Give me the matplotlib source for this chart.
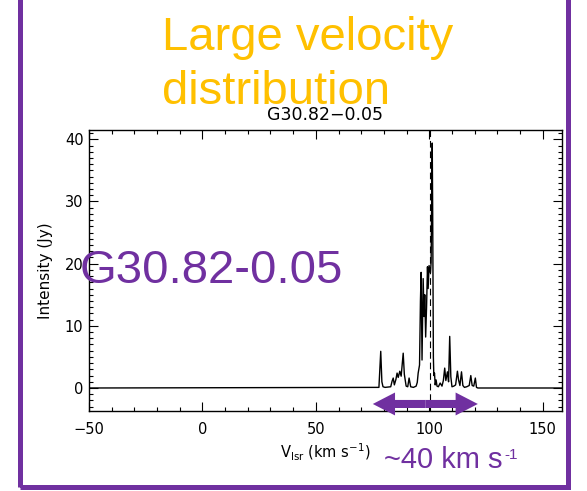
import matplotlib
matplotlib.use("Agg")
import matplotlib.pyplot as plt
from matplotlib.patches import FancyArrowPatch, Rectangle
from matplotlib.ticker import MultipleLocator

# ------------------------------------------------------------
# Spectrum of G30.82-0.05 (velocity in km/s, flux in Jy)
# ------------------------------------------------------------

velocity = [
    -50, 77.8, 78.6, 79.1, 79.6, 80.5, 83.0, 83.6, 84.1, 84.6,
    85.3, 85.8, 86.3, 87.0, 87.6, 88.5, 89.0, 89.8, 90.5, 91.1,
    91.8, 93.0, 94.2, 94.7, 95.1, 95.7, 96.1, 96.4, 96.8, 97.3,
    97.7, 98.0, 98.4, 98.8, 99.2, 99.5, 99.9, 100.5, 100.8, 101.3,
    101.5, 101.8, 102.0, 102.3, 102.6, 103.0, 103.4, 104.0, 104.8, 105.6,
    106.2, 106.8, 107.3, 108.0, 108.5, 109.0, 109.5, 110.0, 110.8, 111.6,
    112.4, 112.9, 113.5, 114.2, 114.8, 115.5, 116.5, 117.6, 118.3, 118.9,
    119.6, 120.3, 120.8, 121.4, 158.5,
]
intensity = [
    0.0, 0.1, 5.9, 1.0, 0.2, 0.1, 0.2, 1.1, 1.6, 0.5,
    1.4, 2.4, 1.7, 2.7, 1.9, 5.6, 2.2, 0.3, 0.2, 1.6,
    0.2, 0.1, 0.3, 0.9, 2.4, 3.7, 14.0, 18.6, 4.5, 17.6,
    11.5, 15.0, 8.2, 13.0, 19.5, 16.0, 19.7, 18.5, 20.2, 39.4,
    28.0, 5.0, 2.0, 2.4, 0.5, 1.3, 0.3, 0.2, 0.8, 0.3,
    1.2, 3.2, 1.2, 2.6, 1.0, 8.3, 1.8, 0.2, 0.3, 0.5,
    2.7, 1.3, 0.4, 2.6, 0.4, 0.1, 0.2, 0.4, 2.0, 0.4,
    0.3, 1.6, 0.1, 0.0, 0.0,
]

v_sys = 100.2                  # systemic velocity marker
spread_range = (75.1, 121.4)   # velocity extent of the emission
spread_level = -2.57

title = "G30.82\u22120.05"
source_name = "G30.82-0.05"
headline = ["Large velocity", "distribution"]
spread_label = "~40 km s"

purple = "#7030A0"
gold = "#FFC000"

# ------------------------------------------------------------
# Figure
# ------------------------------------------------------------

W, H = 587, 491
fig = plt.figure(figsize=(W / 100, H / 100), dpi=100)

ax_l, ax_r, ax_t, ax_b = 89, 562, 130, 411
ax = fig.add_axes([ax_l / W, 1 - ax_b / H, (ax_r - ax_l) / W, (ax_b - ax_t) / H])

ax.plot(velocity, intensity, color="black", lw=1.0)
ax.axvline(v_sys, color="black", lw=0.8, linestyle=(0, (6, 3.5)))

ax.set_xlim(-50, 158.5)
ax.set_ylim(-3.7, 41.5)

ax.xaxis.set_major_locator(MultipleLocator(50))
ax.xaxis.set_minor_locator(MultipleLocator(10))
ax.yaxis.set_major_locator(MultipleLocator(10))
ax.yaxis.set_minor_locator(MultipleLocator(1))

ax.tick_params(which="both", direction="in", top=True, right=True,
               width=0.8, colors="black")
ax.tick_params(which="major", length=6.5)
ax.tick_params(which="minor", length=3.2)
ax.tick_params(axis="x", which="major", labelsize=10.5, pad=8)
ax.tick_params(axis="y", which="major", labelsize=10.5, pad=4)
for sp in ax.spines.values():
    sp.set_linewidth(1.0)

ax.set_title(title, fontsize=12.5, pad=7)
ax.set_xlabel(r"V$_{\rm lsr}$ (km s$^{-1}$)", fontsize=10.5)
ax.set_ylabel("Intensity (Jy)", fontsize=11)
ax.xaxis.set_label_coords(0.5, -(442 - ax_b) / (ax_b - ax_t))
ax.yaxis.set_label_coords(-(ax_l - 53) / (ax_r - ax_l), 0.5)

# double-headed arrow spanning the emission
mid = 0.5 * (spread_range[0] + spread_range[1])
for end in spread_range:
    arr = FancyArrowPatch(
        (mid, spread_level), (end, spread_level),
        arrowstyle="simple,head_length=16,head_width=16.5,tail_width=5.8",
        mutation_scale=1, shrinkA=0, shrinkB=0,
        color=purple, lw=0, clip_on=False, zorder=5,
    )
    ax.add_patch(arr)

# ------------------------------------------------------------
# Slide annotations
# ------------------------------------------------------------

font = "Liberation Sans"
fig.text(162 / W, 1 - 50 / H, headline[0], color=gold, fontsize=34,
         family=font, va="baseline", ha="left")
fig.text(162 / W, 1 - 104 / H, headline[1], color=gold, fontsize=34,
         family=font, va="baseline", ha="left")

fig.text(80 / W, 1 - 283 / H, source_name, color=purple, fontsize=34,
         family=font, va="baseline", ha="left", zorder=10)

lbl = fig.text(384 / W, 1 - 468 / H, spread_label, color=purple,
               fontsize=21, family=font, va="baseline", ha="left")
fig.canvas.draw()
ax.annotate("-1", xy=(1, 1), xycoords=lbl, xytext=(1.5, -1.5),
            textcoords="offset points", ha="left", va="top",
            color=purple, fontsize=11, family=font)

# frame around the panel
fig.add_artist(Rectangle((20 / W, 1 - 487 / H), (568 - 20) / W, 1.2,
                         transform=fig.transFigure, fill=False,
                         edgecolor=purple, lw=3.6, clip_on=False))

fig.savefig("out.png", dpi=100)
